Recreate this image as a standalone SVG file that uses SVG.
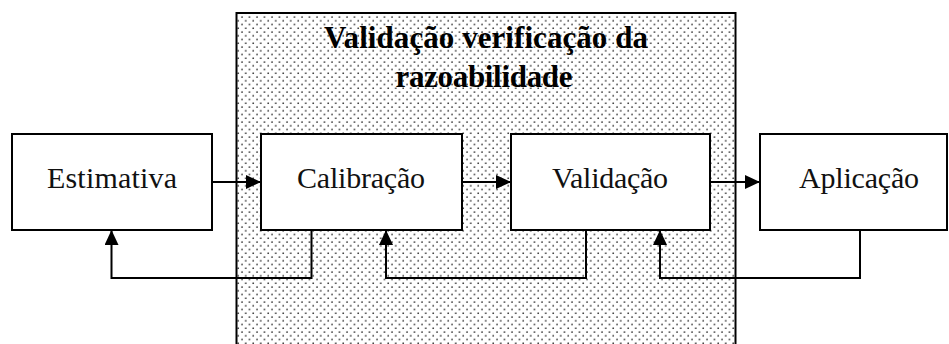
<svg xmlns="http://www.w3.org/2000/svg" width="949" height="344" viewBox="0 0 949 344">
<defs>
<pattern id="dots" x="0" y="0" width="7.5" height="7.5" patternUnits="userSpaceOnUse">
<circle cx="2" cy="2" r="0.8" fill="#222"/>
<circle cx="5.75" cy="5.75" r="0.8" fill="#222"/>
</pattern>
<marker id="ah" markerWidth="15" markerHeight="14" refX="15" refY="7" orient="auto" markerUnits="userSpaceOnUse">
<path d="M0,0 L15,7 L0,14 Z" fill="#000"/>
</marker>
<style>
.box{fill:#fff;stroke:#000;stroke-width:2}
.lbl{font-family:"Liberation Serif","Times New Roman",serif;font-size:30px;fill:#111;text-anchor:middle}
.ttl{font-family:"Liberation Serif","Times New Roman",serif;font-size:31px;font-weight:bold;fill:#000;text-anchor:middle}
.con{fill:none;stroke:#000;stroke-width:2;marker-end:url(#ah)}
</style>
</defs>
<rect width="949" height="344" fill="#fff"/>
<g id="region">
<rect x="236.5" y="13" width="499" height="340" fill="url(#dots)" stroke="#000" stroke-width="2"/>
<text class="ttl" x="486" y="48" textLength="324">Validação verificação da</text>
<text class="ttl" x="484" y="87" textLength="177">razoabilidade</text>
</g>
<g id="estimativa">
<rect class="box" x="12" y="134" width="200" height="96"/>
<text class="lbl" x="112" y="188" textLength="130">Estimativa</text>
</g>
<g id="calibracao">
<rect class="box" x="261" y="134" width="201" height="96"/>
<text class="lbl" x="361" y="188" textLength="128">Calibração</text>
</g>
<g id="validacao">
<rect class="box" x="511" y="134" width="199" height="96"/>
<text class="lbl" x="610" y="188" textLength="116">Validação</text>
</g>
<g id="aplicacao">
<rect class="box" x="760" y="134" width="187" height="96"/>
<text class="lbl" x="859" y="188" textLength="120">Aplicação</text>
</g>
<g id="connectors">
<path class="con" d="M212,182 H261"/>
<path class="con" d="M462,182 H511"/>
<path class="con" d="M710,182 H760"/>
<path class="con" d="M311.5,230 V278 H111.5 V230"/>
<path class="con" d="M586,230 V278 H386 V230"/>
<path class="con" d="M860,230 V278 H660 V230"/>
</g>
</svg>
